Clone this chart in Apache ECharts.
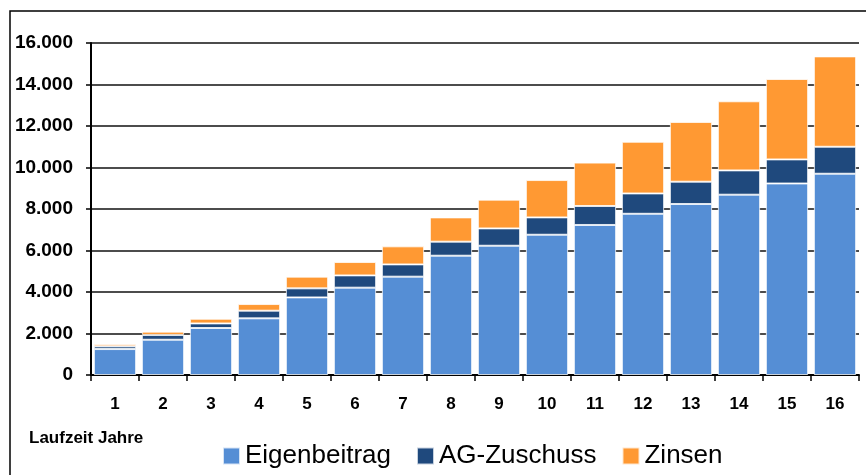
<!DOCTYPE html>
<html>
<head>
<meta charset="utf-8">
<script src="https://cdn.jsdelivr.net/npm/echarts@6/dist/echarts.min.js"></script>
<style>
html,body{margin:0;padding:0;background:#fff;}
#chart{width:866px;height:475px;}
</style>
</head>
<body>
<div id="chart"></div>
<script>
var categories = ['1','2','3','4','5','6','7','8','9','10','11','12','13','14','15','16'];
var eigenbeitrag = [1250, 1700, 2265, 2730, 3740, 4210, 4740, 5750, 6230, 6760, 7230, 7770, 8240, 8690, 9230, 9700];
var agZuschuss   = [130, 230, 220, 370, 435, 590, 590, 675, 835, 835, 915, 980, 1075, 1170, 1160, 1300];
var zinsen       = [100, 160, 225, 320, 565, 645, 870, 1170, 1385, 1800, 2090, 2490, 2880, 3330, 3875, 4355];
var seriesNames = ['Eigenbeitrag', 'AG-Zuschuss', 'Zinsen'];
var axisTitle = 'Laufzeit Jahre';

var FONT = '"Liberation Sans", Arial, sans-serif';
var chart = echarts.init(document.getElementById('chart'), null, {renderer: 'canvas'});

function barSeries(name, data, color) {
  return {
    name: name,
    type: 'bar',
    stack: 'total',
    data: data,
    barCategoryGap: '12%',
    itemStyle: {color: color, borderColor: 'rgba(255,255,255,0.75)', borderWidth: 1},
    emphasis: {disabled: true}
  };
}

chart.setOption({
  animation: false,
  backgroundColor: '#fff',
  textStyle: {fontFamily: FONT},
  grid: {left: 91, right: 7, top: 43, bottom: 100, containLabel: false},
  legend: {
    data: seriesNames,
    left: 222,
    top: 440,
    padding: 0,
    itemWidth: 17,
    itemHeight: 17,
    itemGap: 25,
    icon: 'rect',
    textStyle: {fontSize: 26, color: '#000', fontFamily: FONT, lineHeight: 26, padding: [6, 0, 0, 0]}
  },
  graphic: [
    {type: 'rect', shape: {x: 10, y: 11, width: 870, height: 480}, style: {fill: null, stroke: '#000', lineWidth: 1.5}, silent: true, z: 100},
    {type: 'text', left: 29, top: 430, style: {text: axisTitle, font: 'bold 17px "Liberation Sans", Arial, sans-serif', fill: '#000'}}
  ],
  xAxis: {
    type: 'category',
    data: categories,
    axisLine: {lineStyle: {color: '#000', width: 2}},
    axisTick: {show: true, length: 6, lineStyle: {color: '#000', width: 1.5}},
    axisLabel: {fontSize: 17, fontWeight: 'bold', color: '#000', margin: 21}
  },
  yAxis: {
    type: 'value',
    min: 0,
    max: 16000,
    interval: 2000,
    axisLine: {show: true, lineStyle: {color: '#000', width: 2}},
    axisTick: {show: true, length: 5, lineStyle: {color: '#000', width: 1.5}},
    axisLabel: {
      fontSize: 19, fontWeight: 'bold', color: '#000', margin: 18,
      formatter: function (v) { return v === 0 ? '0' : v.toLocaleString('de-DE'); }
    },
    splitLine: {show: true, lineStyle: {color: '#111', width: 1.5}}
  },
  series: [
    barSeries(seriesNames[0], eigenbeitrag, '#558ED5'),
    barSeries(seriesNames[1], agZuschuss, '#1F497D'),
    barSeries(seriesNames[2], zinsen, '#FF9933')
  ]
});
</script>
</body>
</html>
